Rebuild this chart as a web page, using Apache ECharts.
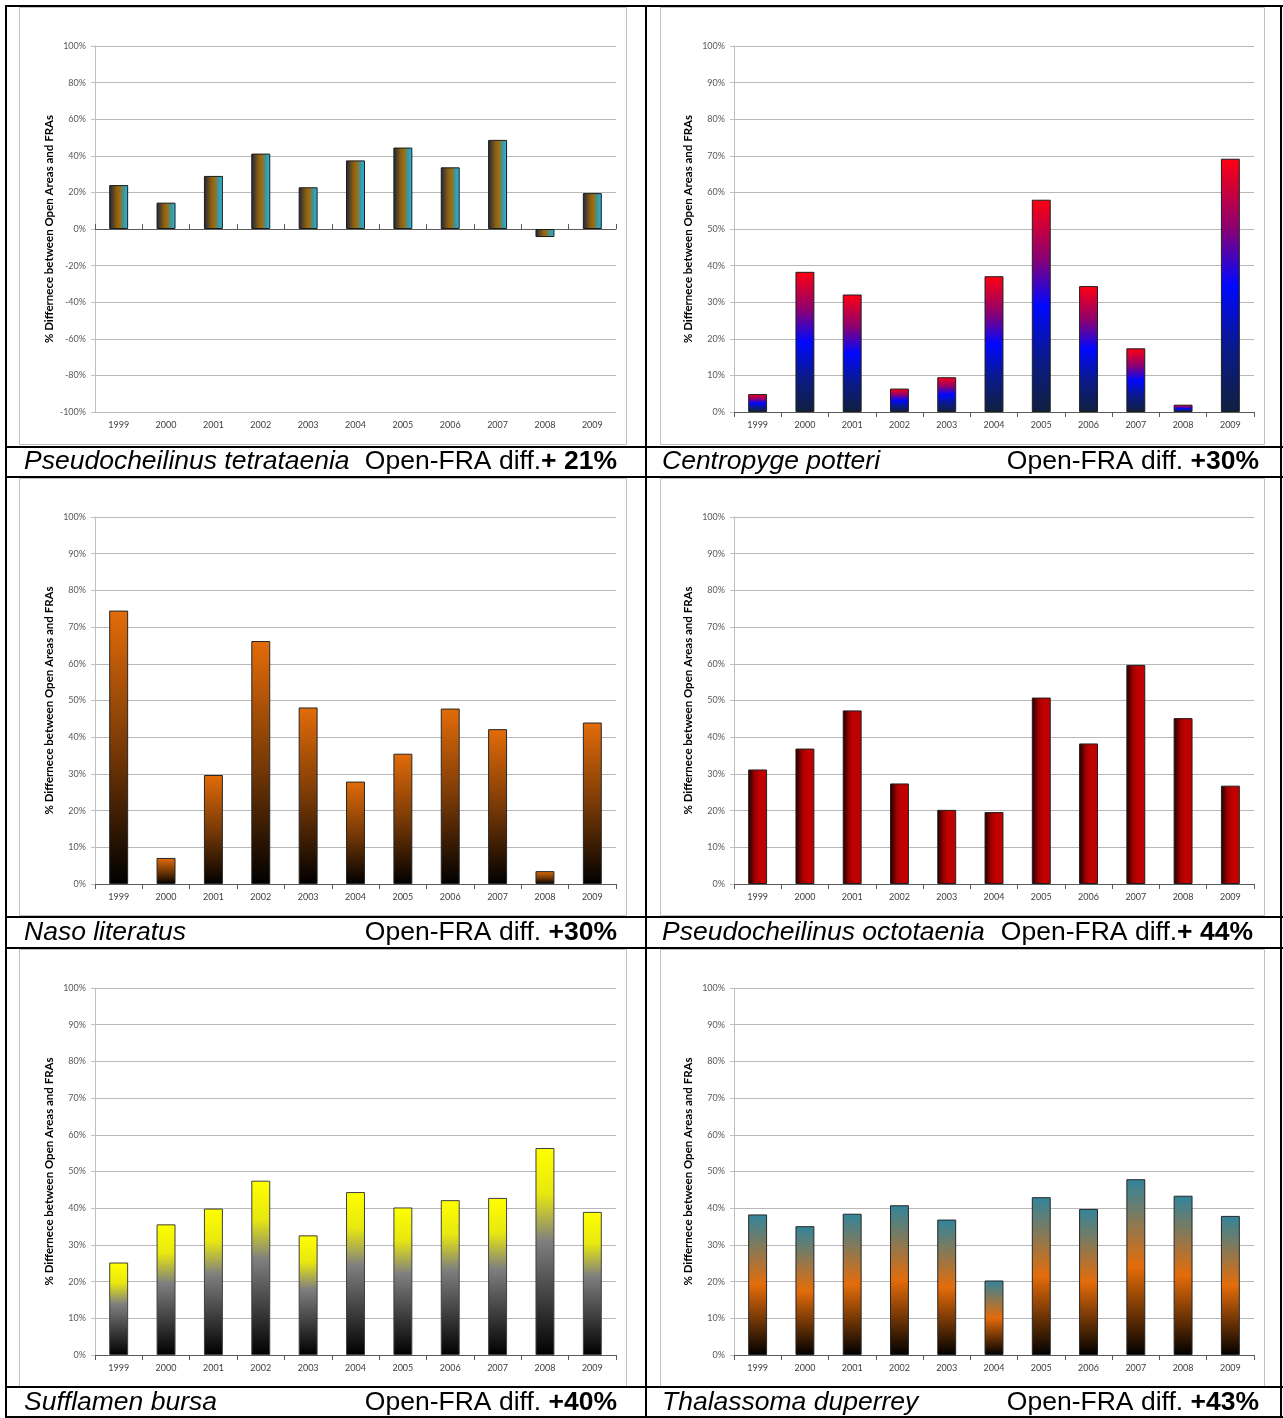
<!DOCTYPE html>
<html><head><meta charset="utf-8">
<script src="https://cdn.jsdelivr.net/npm/echarts@6/dist/echarts.min.js"></script>
<style>html,body{margin:0;padding:0;background:#fff}#c{width:1283px;height:1418px}</style>
</head><body><div id="c"></div>
<script>
// ---- data ----
const years = ['1999','2000','2001','2002','2003','2004','2005','2006','2007','2008','2009'];
const tetrataenia = [24.0, 14.4, 29.0, 41.2, 22.8, 37.5, 44.5, 33.7, 48.7, -4.4, 19.6];
const potteri     = [4.9, 38.3, 32.1, 6.4, 9.5, 37.1, 58.0, 34.4, 17.4, 2.0, 69.2];
const literatus   = [74.5, 7.1, 29.7, 66.2, 48.1, 27.9, 35.5, 47.8, 42.2, 3.5, 44.0];
const octotaenia  = [31.2, 36.9, 47.3, 27.4, 20.2, 19.6, 50.8, 38.3, 59.7, 45.2, 26.8];
const bursa       = [25.2, 35.6, 39.9, 47.5, 32.6, 44.4, 40.2, 42.2, 42.8, 56.4, 39.0];
const duperrey    = [38.3, 35.1, 38.5, 40.8, 36.9, 20.3, 43.0, 39.8, 47.9, 43.4, 37.9];
const speciesNames = ['Pseudocheilinus tetrataenia','Centropyge potteri','Naso literatus',
                      'Pseudocheilinus octotaenia','Sufflamen bursa','Thalassoma duperrey'];
const diffText  = ['Open-FRA diff.','Open-FRA diff. ','Open-FRA diff. ','Open-FRA diff.','Open-FRA diff. ','Open-FRA diff. '];
const diffValue = ['+ 21%','+30%','+30%','+ 44%','+40%','+43%'];
const yTitle = '% Differnece between Open Areas and FRAs';
const yMin = [-100, 0, 0, 0, 0, 0];
const yInterval = [20, 10, 10, 10, 10, 10];
const seriesData = [tetrataenia, potteri, literatus, octotaenia, bursa, duperrey];

// ---- layout / style ----
const FONT = 'Lato, "Open Sans", sans-serif';
const CAP = '"Liberation Sans", Arial, sans-serif';
const CAPSIZE = '26.5px ';
const panels = [
  {left:95,  top:46,  width:521, height:366, frame:[19,7,607,437],   capY:462, capL:24,  capR:617},
  {left:734, top:46,  width:520, height:366, frame:[660,7,604,437],  capY:462, capL:662, capR:1259},
  {left:95,  top:517, width:521, height:367, frame:[19,478,607,437], capY:933, capL:24,  capR:617},
  {left:734, top:517, width:520, height:367, frame:[660,478,604,437],capY:933, capL:662, capR:1253},
  {left:95,  top:988, width:521, height:367, frame:[19,949,607,437], capY:1403,capL:24,  capR:617},
  {left:734, top:988, width:520, height:367, frame:[660,949,604,437],capY:1403,capL:662, capR:1259}
];
function lg(x2, y2, stops){
  return {type:'linear', x:0, y:0, x2:x2, y2:y2,
    colorStops: stops.map(s => ({offset:s[0], color:s[1]}))};
}
const fills = [
  lg(1,0,[[0,'#1b2440'],[0.4,'#8d600f'],[0.55,'#9a6c10'],[0.8,'#3a98a8'],[1,'#22c0e8']]),
  lg(0,1,[[0,'#ff0010'],[0.27,'#8e0070'],[0.5,'#0008ff'],[0.75,'#0a1a8a'],[1,'#10203e']]),
  lg(0,1,[[0,'#e36c09'],[0.5,'#7a3a06'],[1,'#000000']]),
  lg(1,0,[[0,'#1a0000'],[0.35,'#a00000'],[0.6,'#c00000'],[1,'#c40000']]),
  lg(0,1,[[0,'#ffff00'],[0.22,'#e8e810'],[0.45,'#7f7f7f'],[1,'#000000']]),
  lg(0,1,[[0,'#31859c'],[0.5,'#e46c0a'],[1,'#000000']])
];
const borders = ['#1a1a1a','#1f1f1f','#262626','#1f1f1f','#404040','#262626'];

const grids = [], xAxes = [], yAxes = [], series = [], graphics = [];
panels.forEach((p, i) => {
  grids.push({left:p.left, top:p.top, width:p.width, height:p.height});
  const twoAxes = yMin[i] < 0;
  xAxes.push({
    type:'category', gridIndex:i, data:years,
    axisLine:{show:!twoAxes, onZero:false, lineStyle:{color:'#595959', width:1}},
    axisTick:{show:!twoAxes, length:5, lineStyle:{color:'#595959'}},
    axisLabel:{interval:0, fontSize:9, color:'#404040', margin:9, fontFamily:FONT},
    splitLine:{show:false}
  });
  yAxes.push({
    type:'value', gridIndex:i, min:yMin[i], max:100, interval:yInterval[i],
    name:yTitle, nameLocation:'middle', nameGap:40,
    nameTextStyle:{fontWeight:'bold', fontSize:11.5, color:'#000', fontFamily:FONT},
    axisLine:{show:true, lineStyle:{color:'#bfbfbf'}},
    axisTick:{show:true, length:4, lineStyle:{color:'#bfbfbf'}},
    axisLabel:{formatter:'{value}%', fontSize:9, color:'#595959', margin:9, fontFamily:FONT},
    splitLine:{show:true, lineStyle:{color:'#b8b8b8', width:1}}
  });
  series.push({
    type:'bar', xAxisIndex:i, yAxisIndex:i, data:seriesData[i], barWidth:'40%',
    itemStyle:{color:fills[i], borderColor:borders[i], borderWidth:1},
    silent:true, animation:false
  });
  const f = p.frame;
  graphics.push({type:'rect', shape:{x:f[0]+0.5, y:f[1]+0.5, width:f[2], height:f[3]},
    style:{fill:null, stroke:'#c0c0c0', lineWidth:1}, z:-1});
  graphics.push({type:'text', style:{x:p.capL, y:p.capY, text:speciesNames[i],
    font:'italic ' + CAPSIZE + CAP, fill:'#000',
    textAlign:'left', textVerticalAlign:'middle'}});
  graphics.push({type:'text', style:{x:p.capR, y:p.capY,
    text:'{n|' + diffText[i] + '}{b|' + diffValue[i] + '}',
    textAlign:'right', textVerticalAlign:'middle',
    rich:{n:{font:CAPSIZE + CAP, fill:'#000'},
          b:{font:'bold ' + CAPSIZE + CAP, fill:'#000'}}}});
});
// zero line axis for the first panel (labels stay at the bottom)
xAxes.push({
  type:'category', gridIndex:0, data:years,
  axisLine:{show:true, onZero:true, lineStyle:{color:'#595959'}},
  axisTick:{show:true, length:5, lineStyle:{color:'#595959'}},
  axisLabel:{show:false}, splitLine:{show:false}
});
// table rules
const black = (x,y,w,h) => ({type:'rect', shape:{x:x,y:y,width:w,height:h}, style:{fill:'#000'}, z:10});
[5, 446, 476, 916, 947, 1386, 1416].forEach(y => graphics.push(black(5, y, 1278, 2)));
[5, 645, 1280].forEach(x => graphics.push(black(x, 5, 2, 1413)));

const chart = echarts.init(document.getElementById('c'), null, {renderer:'canvas'});
chart.setOption({
  animation:false, backgroundColor:'#fff',
  grid:grids, xAxis:xAxes, yAxis:yAxes, series:series, graphic:graphics
});
</script></body></html>
